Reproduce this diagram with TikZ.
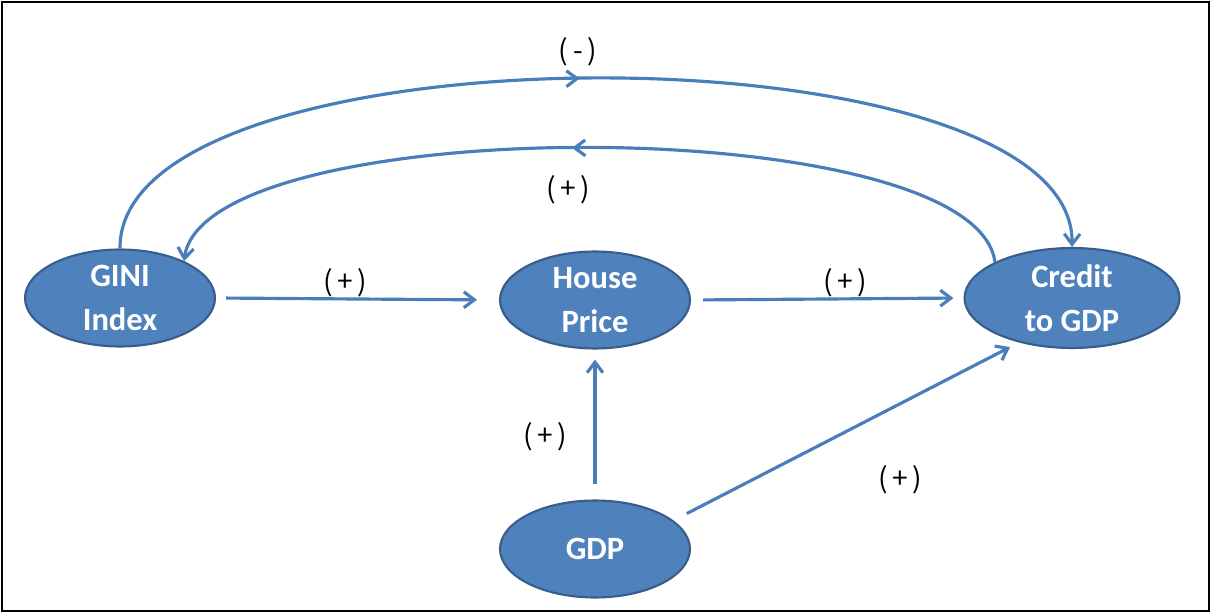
\documentclass[tikz,border=0pt]{standalone}
\usepackage{fontspec}
\setmainfont{Carlito}
\newfontfamily\labfont{Noto Sans CJK KR}
\usetikzlibrary{arrows.meta,shapes.geometric,decorations.markings}

\definecolor{boxblue}{HTML}{4F81BD}
\definecolor{boxline}{HTML}{385D8A}
\definecolor{linkblue}{HTML}{4A7EBB}

\tikzset{
  var/.style={ellipse,draw=boxline,line width=1.2pt,fill=boxblue,text=white,
    font=\fontsize{18.5}{25}\selectfont\bfseries,align=center,
    minimum width=3.8cm,minimum height=1.94cm,inner sep=0pt},
  link/.style={color=linkblue,line width=1.8pt,-{Straight Barb[length=6pt,width=9pt]}},
  midarrow/.style={postaction={decorate},decoration={markings,
    mark=at position #1 with {\arrow{Straight Barb[length=6pt,width=9pt]}}}},
  sign/.style={font=\labfont\fontsize{16}{18}\selectfont}
}

\begin{document}
\begin{tikzpicture}[x=0.02cm,y=-0.02cm]
    \useasboundingbox (0,0) rectangle (1212,614);
    \draw[line width=1pt] (2,2) rectangle (1209,611);

    % variables
    \node[var] (gini) at (120,298) {GINI\\Index};
    \node[var] (house) at (595,300) {House\\Price};
    \node[var,minimum width=4.3cm,minimum height=2cm] (credit) at (1072,298) {Credit\\to GDP};
    \node[var] (gdp) at (595,549) {GDP};

    % straight links
    \draw[link,shorten <=0.2cm,shorten >=0.44cm] (gini.east) -- (house.west);
    \draw[link,shorten <=0.24cm,shorten >=0.2cm] (house.east) -- (credit.west);
    \draw[link,shorten <=0.3cm,shorten >=0.2cm] (gdp.north) -- (house.south);
    \draw[link,shorten <=0.3cm,shorten >=0.2cm] (gdp.20) -- (credit.220);

    % feedback arcs
    \draw[link,midarrow=0.485] (gini.north) .. controls (118,22) and (1075,22) .. (credit.north);
    \draw[link,midarrow=0.52] (credit.155) .. controls (975,110) and (205,110) .. (gini.30);

    % signs
    \node[sign] (s1) at (578,52) {(\,-\,)};
    \node[sign] (s2) at (568,190) {(\,+\,)};
    \node[sign] (s3) at (345,283) {(\,+\,)};
    \node[sign] (s4) at (845,283) {(\,+\,)};
    \node[sign] (s5) at (545,437) {(\,+\,)};
    \node[sign] (s6) at (900,480) {(\,+\,)};
\end{tikzpicture}
\end{document}
